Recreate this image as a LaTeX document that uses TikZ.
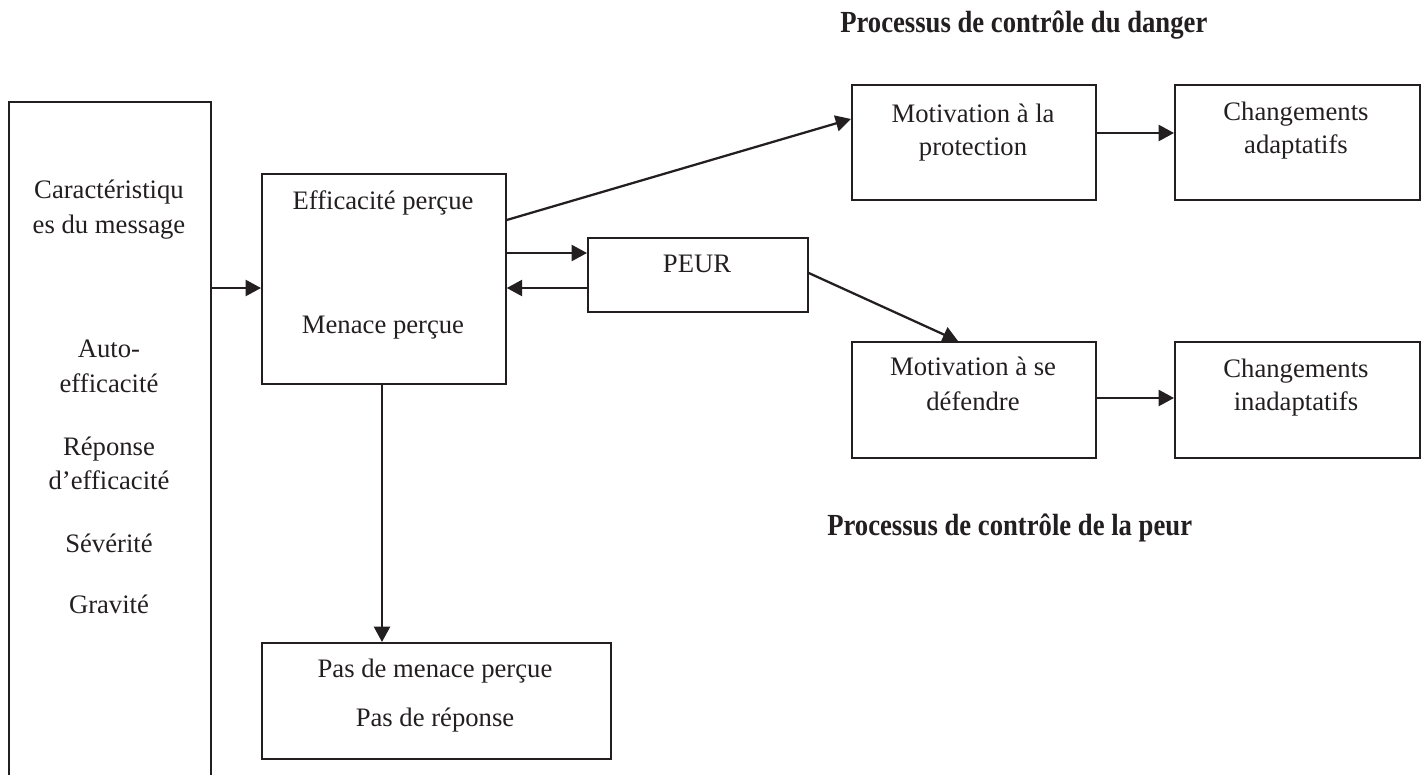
\documentclass[tikz,border=0pt]{standalone}
\usepackage{fontspec}
\setmainfont{Liberation Serif}
\usetikzlibrary{arrows.meta,positioning}
\definecolor{ink}{RGB}{35,31,32}
\tikzset{
  box/.style={draw=ink, line width=1.3pt, rectangle, inner sep=0pt, anchor=north west},
  txt/.style={anchor=base, inner sep=0pt, text=ink, font=\fontsize{20}{26}\selectfont},
  head/.style={anchor=base west, inner sep=0pt, text=ink},
  arr/.style={draw=ink, line width=1.7pt, -{Triangle[length=11.5pt,width=12pt]}},
}
\newcommand{\heading}[1]{\scalebox{0.87}[1]{\fontsize{23}{28}\selectfont\bfseries #1}}
\begin{document}
\begin{tikzpicture}[x=0.75pt,y=-0.75pt]
\useasboundingbox (0,0) rectangle (1426,774);
% boxes
\node[box, minimum width=202*0.75pt, minimum height=700*0.75pt] (L) at (8,101) {};
\node[box, minimum width=244*0.75pt, minimum height=210*0.75pt] (M) at (261,173) {};
\node[box, minimum width=220*0.75pt, minimum height=74*0.75pt] (P) at (587,237) {};
\node[box, minimum width=244*0.75pt, minimum height=115*0.75pt] (MP) at (851,84) {};
\node[box, minimum width=245*0.75pt, minimum height=115*0.75pt] (CA) at (1174,84) {};
\node[box, minimum width=244*0.75pt, minimum height=116*0.75pt] (MD) at (851,341) {};
\node[box, minimum width=245*0.75pt, minimum height=116*0.75pt] (CI) at (1174,341) {};
\node[box, minimum width=349*0.75pt, minimum height=116*0.75pt] (PM) at (261,642) {};
% texts
\node[txt] (t1) at (109,198) {Caractéristiqu};
\node[txt] (t2) at (109,233) {es du message};
\node[txt] (t3) at (109,357) {Auto-};
\node[txt] (t4) at (109,392) {efficacité};
\node[txt] (t5) at (109,455) {Réponse};
\node[txt] (t6) at (109,489) {d’efficacité};
\node[txt] (t7) at (109,552) {Sévérité};
\node[txt] (t8) at (109,613) {Gravité};
\node[txt] (m1) at (383,209) {Efficacité perçue};
\node[txt] (m2) at (383,333) {Menace perçue};
\node[txt] (p1) at (697,272) {PEUR};
\node[txt] (a1) at (973,122) {Motivation à la};
\node[txt] (a2) at (973,155) {protection};
\node[txt] (b1) at (1296,120) {Changements};
\node[txt] (b2) at (1296,153) {adaptatifs};
\node[txt] (c1) at (973,375) {Motivation à se};
\node[txt] (c2) at (973,410) {défendre};
\node[txt] (d1) at (1296,377) {Changements};
\node[txt] (d2) at (1296,410) {inadaptatifs};
\node[txt] (e1) at (435,677) {Pas de menace perçue};
\node[txt] (e2) at (435,726) {Pas de réponse};
\node[head] (h1) at (840,33) {\heading{Processus de contrôle du danger}};
\node[head] (h2) at (827,535) {\heading{Processus de contrôle de la peur}};
% connectors
\draw[arr] (L.east |- 0,288) -- (M.west |- 0,288);
\draw[arr] (M.east |- 0,220) -- (MP.west |- 0,119);
\draw[arr] (M.east |- 0,253) -- (P.west |- 0,253);
\draw[arr] (P.west |- 0,288) -- (M.east |- 0,288);
\draw[arr] (P.east |- 0,273) -- (MD.north -| 958,0);
\draw[arr] (MP.east |- 0,133) -- (CA.west |- 0,133);
\draw[arr] (MD.east |- 0,398) -- (CI.west |- 0,398);
\draw[arr] (M.south -| 382,0) -- (PM.north -| 382,0);
\end{tikzpicture}
\end{document}
